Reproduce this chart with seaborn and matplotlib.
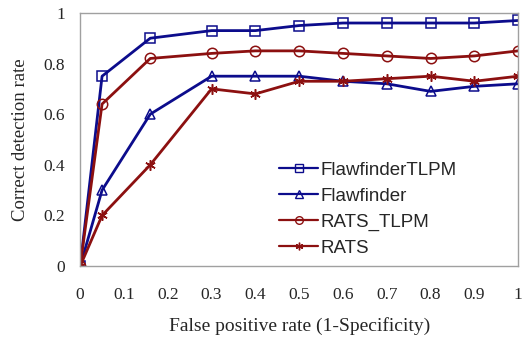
import numpy as np
import pandas as pd
import matplotlib
matplotlib.use("Agg")
import matplotlib.pyplot as plt
from matplotlib.lines import Line2D
import seaborn as sns

fpr = [0, 0.05, 0.16, 0.3, 0.4, 0.5, 0.6, 0.7, 0.8, 0.9, 1.0]
flawfinder_tlpm = [0, 0.75, 0.90, 0.93, 0.93, 0.95, 0.96, 0.96, 0.96, 0.96, 0.97]
flawfinder = [0, 0.30, 0.60, 0.75, 0.75, 0.75, 0.73, 0.72, 0.69, 0.71, 0.72]
rats_tlpm = [0, 0.64, 0.82, 0.84, 0.85, 0.85, 0.84, 0.83, 0.82, 0.83, 0.85]
rats = [0, 0.20, 0.40, 0.70, 0.68, 0.73, 0.73, 0.74, 0.75, 0.73, 0.75]

names = ["FlawfinderTLPM", "Flawfinder", "RATS_TLPM", "RATS"]
series = [flawfinder_tlpm, flawfinder, rats_tlpm, rats]

navy = "#0c0c8c"
dred = "#8c1010"
colors = [navy, navy, dred, dred]
markers = ["s", "^", "o", (6, 2, 0)]

sns.set_style("white")
fig = plt.figure(figsize=(5.24, 3.39), dpi=100)
ax = fig.add_axes([0.153, 0.215, 0.836, 0.747])

for name, vals, c, m in zip(names, series, colors, markers):
    df = pd.DataFrame({"x": fpr, "y": vals})
    sns.lineplot(data=df, x="x", y="y", color=c, marker=m, linewidth=2,
                 markersize=7.5, markerfacecolor="none", markeredgecolor=c,
                 markeredgewidth=1.1, ax=ax)

ax.set_xlim(0, 1)
ax.set_ylim(0, 1)
ax.set_xticks(np.arange(0, 1.01, 0.1))
ax.set_xticklabels(["0", "0.1", "0.2", "0.3", "0.4", "0.5", "0.6", "0.7", "0.8", "0.9", "1"])
ax.set_yticks(np.arange(0, 1.01, 0.2))
ax.set_yticklabels(["0", "0.2", "0.4", "0.6", "0.8", "1"])
for s in ax.spines.values():
    s.set_color("#a0a0a0")
    s.set_linewidth(1)
ax.tick_params(direction="in", length=4, color="#a0a0a0", width=1,
               labelsize=12.5)
ax.tick_params(axis="x", pad=15)
ax.tick_params(axis="y", pad=11)
for lab in ax.get_xticklabels() + ax.get_yticklabels():
    lab.set_family("Liberation Serif")

ax.set_xlabel("False positive rate (1-Specificity)", family="Liberation Serif",
              fontsize=14, labelpad=10)
ax.set_ylabel("Correct detection rate", family="Liberation Serif",
              fontsize=13.5, labelpad=10)

handles = [Line2D([], [], color=c, marker=m, markersize=5.5,
                  markerfacecolor="none", markeredgewidth=1, linewidth=1.6)
           for c, m in zip(colors, markers)]
ax.legend(handles, names, loc="lower left", bbox_to_anchor=(0.415, -0.03),
          frameon=False, prop={"family": "Liberation Sans", "size": 13.5},
          handlelength=2.1, handletextpad=0.1, labelspacing=0.47)

fig.savefig("out.png", dpi=100)
